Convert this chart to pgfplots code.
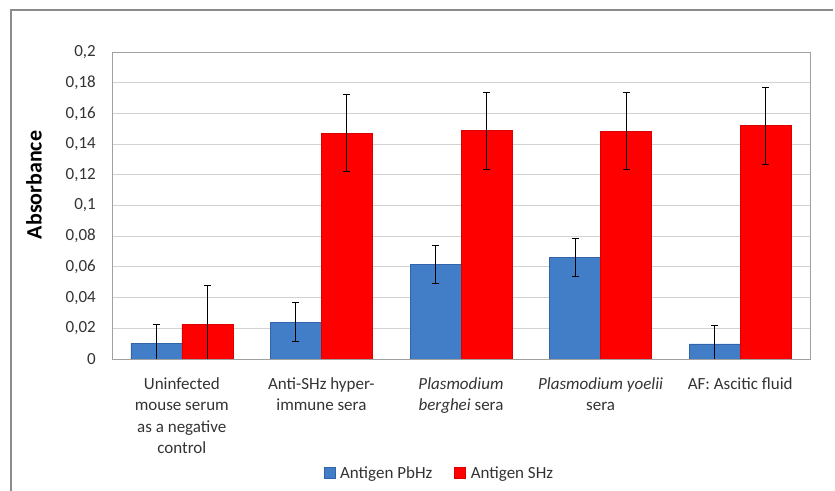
\documentclass[border=0pt]{standalone}
\usepackage{pgfplots}
\pgfplotsset{compat=1.18}
\usepackage{fontspec}
\setmainfont{Carlito}
\definecolor{pbfill}{RGB}{66,126,200}
\definecolor{pbdraw}{RGB}{50,100,170}
\definecolor{shfill}{RGB}{255,0,0}
\definecolor{shdraw}{RGB}{220,0,0}
\definecolor{framegray}{RGB}{140,140,140}
\definecolor{gridgray}{RGB}{210,210,210}
\definecolor{axisgray}{RGB}{160,160,160}
\begin{document}
\begin{tikzpicture}
\path[use as bounding box] (0bp,0bp) rectangle (835bp,491bp);
\draw[framegray, line width=2bp] (11bp,0bp) -- (11bp,481bp) -- (833bp,481bp);
\begin{axis}[
  at={(112bp,132bp)}, anchor=south west,
  scale only axis, width=698bp, height=307bp,
  xmin=-0.5, xmax=4.5, ymin=0, ymax=0.2,
  ybar=0pt, bar width=51bp,
  xtick={0,1,2,3,4},
  xticklabels={{Uninfected\\mouse serum\\as a negative\\control},
               {Anti-SHz hyper-\\immune sera},
               {\textit{Plasmodium}\\\textit{berghei} sera},
               {\textit{Plasmodium yoelii}\\sera},
               {AF: Ascitic fluid}},
  ytick={0,0.02,0.04,0.06,0.08,0.1,0.12,0.14,0.16,0.18,0.2},
  /pgf/number format/.cd, use comma, fixed, precision=2, assume math mode=true,
  /pgfplots/.cd,
  scaled y ticks=false,
  major tick length=0pt,
  ymajorgrids, grid style={gridgray, line width=0.8bp},
  axis line style={axisgray, line width=0.8bp},
  axis on top=false,
  tick label style={font=\fontsize{17bp}{21.5bp}\selectfont, text=black!80},
  yticklabel style={anchor=east, inner sep=0pt, xshift=-16bp},
  xticklabel style={anchor=north, align=center, inner sep=0pt, yshift=-18bp},
  ylabel={\textbf{Absorbance}},
  every axis y label/.style={at={(axis description cs:-0.1117,0.567)}, rotate=90, anchor=center, font=\fontsize{22bp}{26bp}\selectfont},
  legend style={at={(axis description cs:0.469,-0.371)}, anchor=center, draw=none, fill=none,
    legend columns=2, font=\fontsize{17bp}{20bp}\selectfont, text=black!80,
    /tikz/every odd column/.append style={column sep=3bp},
    /tikz/every even column/.append style={column sep=20bp}},
  legend image code/.code={\fill[#1] (0bp,-5.5bp) rectangle (11bp,5.5bp);},
  error bars/y dir=both, error bars/y explicit,
  error bars/error bar style={black, line width=1bp},
  error bars/error mark options={rotate=90, mark size=3.5bp, black, line width=1bp},
]
\addplot[draw=pbdraw, line width=0.5bp, fill=pbfill]
  coordinates {(0,0.0103) +- (0,0.012) (1,0.024) +- (0,0.0125) (2,0.0617) +- (0,0.0125) (3,0.066) +- (0,0.0125) (4,0.0098) +- (0,0.012)};
\addplot[draw=shdraw, line width=0.5bp, fill=shfill]
  coordinates {(0,0.0228) +- (0,0.025) (1,0.147) +- (0,0.025) (2,0.1487) +- (0,0.025) (3,0.1485) +- (0,0.025) (4,0.152) +- (0,0.025)};
\legend{Antigen PbHz, Antigen SHz}
\end{axis}
\end{tikzpicture}
\end{document}
